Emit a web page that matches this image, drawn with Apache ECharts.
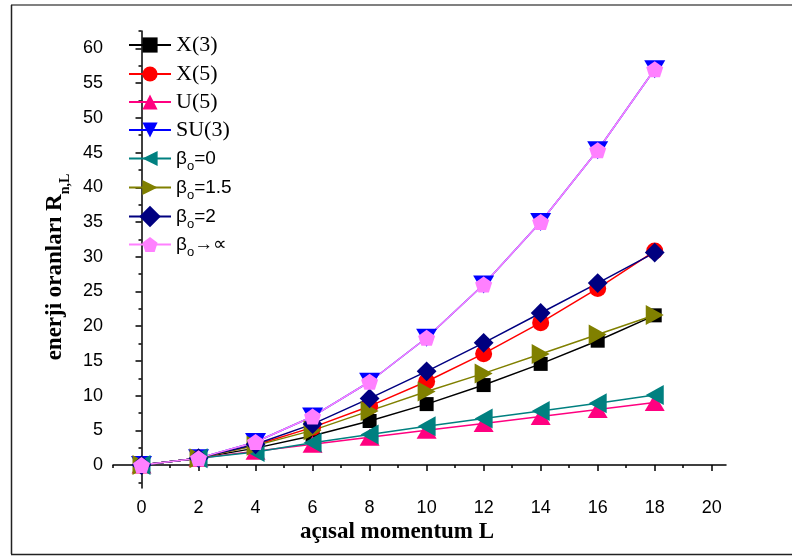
<!DOCTYPE html>
<html><head><meta charset="utf-8">
<script src="https://cdn.jsdelivr.net/npm/echarts@6/dist/echarts.min.js"></script>
<style>html,body{margin:0;padding:0;background:#fff}#c{width:792px;height:556px}</style>
</head><body><div id="c"></div>
<script>
var L = [0, 2, 4, 6, 8, 10, 12, 14, 16, 18];
var x3 = [0, 1, 2.44, 4.23, 6.35, 8.78, 11.52, 14.57, 17.91, 21.56];
var x5 = [0, 1, 2.90, 5.43, 8.48, 12.03, 16.04, 20.51, 25.44, 30.81];
var u5 = [0, 1, 2, 3, 4, 5, 6, 7, 8, 9];
var su3 = [0, 1, 3.33, 7, 12, 18.33, 26, 35, 45.33, 57];
var b0 = [0, 1, 1.9, 3.2, 4.4, 5.6, 6.7, 7.8, 8.9, 10.1];
var b15 = [0, 1, 2.8, 5.0, 7.8, 10.6, 13.2, 16.0, 18.8, 21.6];
var b2 = [0, 1, 3.0, 5.9, 9.6, 13.5, 17.6, 21.9, 26.2, 30.6];
var binf = [0, 1, 3.33, 7, 12, 18.33, 26, 35, 45.33, 57];
var xMajor = [0, 2, 4, 6, 8, 10, 12, 14, 16, 18, 20];
var xMinor = [-1, 1, 3, 5, 7, 9, 11, 13, 15, 17, 19];
var yMajor = [0, 5, 10, 15, 20, 25, 30, 35, 40, 45, 50, 55, 60];
var yMinor = [-2.5, 2.5, 7.5, 12.5, 17.5, 22.5, 27.5, 32.5, 37.5, 42.5, 47.5, 52.5, 57.5, 62.5];
var names = ['X(3)', 'X(5)', 'U(5)', 'SU(3)', 'b0', 'b15', 'b2', 'binf'];

function pts(v) { return L.map(function (l, i) { return [l, v[i]]; }); }
var pent = 'path://M0,-1 L0.951,-0.309 L0.588,0.809 L-0.588,0.809 L-0.951,-0.309 Z';

var defs = [
  { data: x3, color: '#000000', symbol: 'rect', size: 14, rot: 0 },
  { data: x5, color: '#FF0000', symbol: 'circle', size: 17, rot: 0 },
  { data: u5, color: '#FF0080', symbol: 'triangle', size: [20, 17], rot: 0 },
  { data: su3, color: '#0000FF', symbol: 'triangle', size: [21, 18], rot: 180 },
  { data: b0, color: '#008080', symbol: 'triangle', size: [20, 18], rot: 90 },
  { data: b15, color: '#808000', symbol: 'triangle', size: [20, 18], rot: -90 },
  { data: b2, color: '#000080', symbol: 'rect', size: 14, rot: 45 },
  { data: binf, color: '#FF80FF', symbol: pent, size: [17, 16], rot: 0 }
];

var series = defs.map(function (d, i) {
  return {
    name: names[i], type: 'line', xAxisIndex: 0, yAxisIndex: 0,
    data: pts(d.data), symbol: d.symbol, symbolSize: d.size, symbolRotate: d.rot,
    showAllSymbol: true, animation: false,
    lineStyle: { color: d.color, width: 1.5 },
    itemStyle: { color: d.color, borderWidth: 0 }
  };
});

var legendLabels = {
  'X(3)': '{t|X(3)}', 'X(5)': '{t|X(5)}', 'U(5)': '{t|U(5)}', 'SU(3)': '{t|SU(3)}',
  'b0': '{g|β}{s|o}{g|=0}', 'b15': '{g|β}{s|o}{g|=1.5}', 'b2': '{g|β}{s|o}{g|=2}', 'binf': '{g|β}{s|o}{g|→∝}'
};
var rowY = [43, 72, 100, 128, 157, 186, 215, 243];

var legends = names.map(function (n, i) {
  return {
    orient: 'vertical', left: 128, top: rowY[i] - 13, padding: 0, itemWidth: 42, itemHeight: 19, itemGap: 0,
    data: [n], selectedMode: false,
    formatter: function (nm) { return legendLabels[nm]; },
    textStyle: {
      color: '#000', padding: [0, 0, 0, 0],
      rich: {
        t: { fontFamily: 'Liberation Serif', fontSize: 22, lineHeight: 20, padding: [4, 0, 4, 0], color: '#000' },
        g: { fontFamily: 'Liberation Sans', fontSize: 19, lineHeight: 20, padding: [4, 0, 4, 0], color: '#000' },
        s: { fontFamily: 'Liberation Sans', fontSize: 13, lineHeight: 12, padding: [16, 0, 0, 0], color: '#000' }
      }
    }
  };
});

var option = {
  backgroundColor: '#ffffff',
  animation: false,
  grid: { left: 113, right: 66, top: 31, bottom: 68, containLabel: false },
  xAxis: [
    { type: 'value', min: -1, max: 20.5, position: 'bottom',
      axisLine: { show: true, lineStyle: { color: '#000', width: 1.5 } },
      axisTick: { show: true, inside: false, length: 6, customValues: xMajor, lineStyle: { color: '#000', width: 1.5 } },
      axisLabel: { show: true, customValues: xMajor, margin: 11, color: '#000', fontFamily: 'Liberation Sans', fontSize: 18 },
      splitLine: { show: false } },
    { type: 'value', min: -1, max: 20.5, position: 'bottom', offset: 0,
      axisLine: { show: false },
      axisTick: { show: true, inside: false, length: 3, customValues: xMinor, lineStyle: { color: '#000', width: 1.5 } },
      axisLabel: { show: false }, splitLine: { show: false } }
  ],
  yAxis: [
    { type: 'value', min: -3.3, max: 62.5, position: 'left',
      axisLine: { show: true, lineStyle: { color: '#000', width: 1.5 } },
      axisTick: { show: true, inside: false, length: 6, customValues: yMajor, lineStyle: { color: '#000', width: 1.5 } },
      axisLabel: { show: true, customValues: yMajor, margin: 10, color: '#000', fontFamily: 'Liberation Sans', fontSize: 18 },
      splitLine: { show: false } },
    { type: 'value', min: -3.3, max: 62.5, position: 'left', offset: 0,
      axisLine: { show: false },
      axisTick: { show: true, inside: false, length: 3, customValues: yMinor, lineStyle: { color: '#000', width: 1.5 } },
      axisLabel: { show: false }, splitLine: { show: false } }
  ],
  legend: legends,
  graphic: [
    { type: 'line', shape: { x1: 11, y1: 5, x2: 792, y2: 5 }, style: { stroke: '#808080', lineWidth: 2 }, silent: true },
    { type: 'line', shape: { x1: 11.5, y1: 5, x2: 11.5, y2: 554 }, style: { stroke: '#222', lineWidth: 1.5 }, silent: true },
    { type: 'line', shape: { x1: 11, y1: 554.5, x2: 792, y2: 554.5 }, style: { stroke: '#222', lineWidth: 1.5 }, silent: true },
    { type: 'text', x: 397, y: 532, style: { text: 'açısal momentum L', align: 'center', verticalAlign: 'middle', font: 'bold 23px "Liberation Serif"', fill: '#000' } },
    { type: 'text', x: 58, y: 267, rotation: Math.PI / 2,
      style: { text: '{a|enerji oranları R}{b|n,L}', align: 'center', verticalAlign: 'middle',
        rich: {
          a: { fontFamily: 'Liberation Serif', fontWeight: 'bold', fontSize: 23, lineHeight: 22, padding: [0, 0, 6, 0], fill: '#000' },
          b: { fontFamily: 'Liberation Serif', fontWeight: 'bold', fontSize: 14, lineHeight: 14, padding: [14, 0, 0, 0], fill: '#000' }
        } } }
  ],
  series: series
};
var chart = echarts.init(document.getElementById('c'), null, { renderer: 'canvas' });
chart.setOption(option);
</script></body></html>
